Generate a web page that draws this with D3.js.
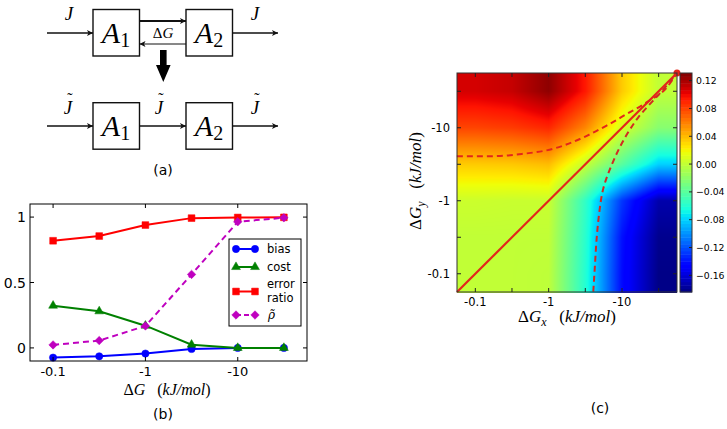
<!DOCTYPE html>
<html><head><meta charset="utf-8">
<script src="https://cdn.jsdelivr.net/npm/d3@7"></script>
<style>body{margin:0;background:#fff} svg{display:block} text{font-family:"DejaVu Sans",sans-serif}</style>
</head><body><svg id="c" width="727" height="429"></svg>
<script>
// ---------- data ----------
const gridDG = [-0.1, -0.316, -1, -3.16, -10, -31.6];
const bias = [-0.074, -0.064, -0.043, -0.008, 0, 0];
const cost = [0.323, 0.280, 0.170, 0.025, 0, 0];
const errorRatio = [0.819, 0.855, 0.939, 0.992, 0.997, 0.998];
const rhoTilde = [0.023, 0.056, 0.168, 0.562, 0.964, 0.995];
const xTickLabels = [-0.1, -1, -10];
const bYTicks = [0, 0.5, 1];
// heat[j][i]: row j = ΔGy (gridDG order), column i = ΔGx (gridDG order)
const heat = [
  [0.000, 0.000, -0.001, -0.060, -0.142, -0.182],
  [0.000, 0.000, 0.000, -0.058, -0.140, -0.180],
  [0.004, 0.003, 0.003, -0.055, -0.128, -0.172],
  [0.035, 0.036, 0.040, 0.002, -0.040, -0.080],
  [0.080, 0.083, 0.090, 0.058, 0.008, -0.022],
  [0.108, 0.112, 0.127, 0.095, 0.035, 0.000]
];
const cbRange = [-0.184, 0.131];
const cbTicks = [0.12, 0.08, 0.04, 0.00, -0.04, -0.08, -0.12, -0.16];
const upperX = [-0.056, -0.151, -0.427, -1.23, -1.74, -3.31, -6.17, -11.7, -21.9, -40.7, -56.2];
const upperY = [-4.07, -4.07, -4.37, -5.25, -5.89, -7.76, -10.7, -15.5, -22.4, -35.5, -56.2];
const lowerX = [-4.06, -4.28, -4.51, -4.85, -5.57, -7.59, -10.0, -12.9, -16.6, -21.9, -29.5, -40.7, -56.2];
const lowerY = [-0.0568, -0.132, -0.302, -0.631, -1.48, -3.47, -6.17, -9.55, -13.8, -19.1, -26.3, -38.0, -56.2];
const endPoint = [-56.2, -56.2];

const svg = d3.select('#c');
const serif = '"Liberation Serif", "DejaVu Serif", serif';

// ---------- panel (a) ----------
const defs = svg.append('defs');
defs.append('marker').attr('id', 'ah').attr('viewBox', '0 0 10 10').attr('refX', 10).attr('refY', 5)
  .attr('markerWidth', 8).attr('markerHeight', 6).attr('markerUnits', 'userSpaceOnUse').attr('orient', 'auto')
  .append('path').attr('d', 'M0,0 L10,5 L0,10 L2.5,5 Z').attr('fill', '#111');
const A = svg.append('g');
function arrow(x1, y1, x2, y2, w) {
  A.append('line').attr('x1', x1).attr('y1', y1).attr('x2', x2).attr('y2', y2)
    .attr('stroke', '#111').attr('stroke-width', w).attr('marker-end', 'url(#ah)');
}
function box(x, y, sub) {
  A.append('rect').attr('x', x).attr('y', y).attr('width', 46.5).attr('height', 46.5)
    .attr('fill', 'none').attr('stroke', '#111').attr('stroke-width', 1.4);
  const t = A.append('text').attr('x', x + 23).attr('y', y + 33.5).attr('text-anchor', 'middle').style('font-family', serif);
  t.append('tspan').text('A').attr('font-size', 30).attr('font-style', 'italic');
  t.append('tspan').text(sub).attr('font-size', 20).attr('dy', 4);
}
function J(x, y, tilde) {
  A.append('text').attr('x', x).attr('y', y).attr('text-anchor', 'middle').style('font-family', serif)
    .attr('font-size', 19).attr('font-style', 'italic').text('J');
  if (tilde) A.append('text').attr('x', x + 2).attr('y', y - 10).attr('text-anchor', 'middle').style('font-family', serif)
    .attr('font-size', 16).text('˜');
}
box(93, 9.5, '1'); box(186, 9.5, '2');
box(93, 102.7, '1'); box(186, 102.7, '2');
arrow(47, 33, 93, 33, 1.4); arrow(232.5, 33, 278, 33, 1.4);
arrow(139.5, 21, 186, 21, 2); arrow(186, 44, 139.5, 44, 1);
A.append('text').attr('x', 163).attr('y', 38).attr('text-anchor', 'middle').style('font-family', serif)
  .attr('font-size', 15).html('<tspan>Δ</tspan><tspan font-style="italic">G</tspan>');
J(69, 20, false); J(255, 20, false);
arrow(47, 126, 93, 126, 1.4); arrow(139.5, 126, 186, 126, 1.4); arrow(232.5, 126, 278, 126, 1.4);
J(68, 114, true); J(159, 114, true); J(255, 114, true);
A.append('path').attr('d', 'M160,50 L166.6,50 L166.6,65 L170.6,65 L163.3,82 L156,65 L160,65 Z').attr('fill', '#000');
svg.append('text').attr('x', 163).attr('y', 175).attr('text-anchor', 'middle').attr('font-size', 14).text('(a)');

// ---------- panel (b) ----------
const bx = d3.scaleLog().domain([-Math.pow(10, -1.25), -Math.pow(10, 1.75)]).range([30, 307]);
const by = d3.scaleLinear().domain([-0.1, 1.1]).range([361, 204]);
const B = svg.append('g');
B.append('rect').attr('x', 30).attr('y', 204).attr('width', 277).attr('height', 157).attr('fill', '#fff');
const series = [
  {name: 'bias', vals: bias, color: '#0000ff', sym: d3.symbolCircle, size: 42, dash: null, rot: 0},
  {name: 'cost', vals: cost, color: '#008000', sym: d3.symbolTriangle, size: 34, dash: null, rot: 0},
  {name: 'error ratio', vals: errorRatio, color: '#ff0000', sym: d3.symbolSquare, size: 46, dash: null, rot: 0},
  {name: 'rho', vals: rhoTilde, color: '#bf00bf', sym: d3.symbolSquare, size: 36, dash: '6,4', rot: 45}
];
const line = d3.line().x((d, i) => bx(gridDG[i])).y(d => by(d));
series.forEach(s => {
  B.append('path').attr('d', line(s.vals)).attr('fill', 'none').attr('stroke', s.color).attr('stroke-width', 2)
    .attr('stroke-dasharray', s.dash);
  B.selectAll(null).data(s.vals).enter().append('path')
    .attr('d', d3.symbol().type(s.sym).size(s.size))
    .attr('transform', (d, i) => `translate(${bx(gridDG[i])},${by(d)}) rotate(${s.rot})`)
    .attr('fill', s.color).attr('stroke', s.color).attr('stroke-width', 0.5);
});
B.append('rect').attr('x', 30).attr('y', 204).attr('width', 277).attr('height', 157).attr('fill', 'none').attr('stroke', '#000').attr('stroke-width', 1);
xTickLabels.forEach(v => {
  const x = bx(v);
  B.append('line').attr('x1', x).attr('x2', x).attr('y1', 361).attr('y2', 357).attr('stroke', '#000');
  B.append('line').attr('x1', x).attr('x2', x).attr('y1', 204).attr('y2', 208).attr('stroke', '#000');
  B.append('text').attr('x', x).attr('y', 376).attr('text-anchor', 'middle').attr('font-size', 13).text(String(v));
});
bYTicks.forEach(v => {
  const y = by(v);
  B.append('line').attr('x1', 30).attr('x2', 34).attr('y1', y).attr('y2', y).attr('stroke', '#000');
  B.append('line').attr('x1', 307).attr('x2', 303).attr('y1', y).attr('y2', y).attr('stroke', '#000');
  B.append('text').attr('x', 26).attr('y', y + 5).attr('text-anchor', 'end').attr('font-size', 14).text(String(v));
});
// legend
const L = B.append('g');
L.append('rect').attr('x', 229).attr('y', 239).attr('width', 72).attr('height', 87).attr('fill', '#fff').attr('stroke', '#000').attr('stroke-width', 1);
const legY = [249, 267, 291.5, 315];
series.forEach((s, k) => {
  const y = legY[k];
  L.append('line').attr('x1', 236).attr('x2', 255).attr('y1', y).attr('y2', y).attr('stroke', s.color).attr('stroke-width', 2).attr('stroke-dasharray', s.dash ? '5,3' : null);
  [236, 255].forEach(x => L.append('path').attr('d', d3.symbol().type(s.sym).size(s.size))
    .attr('transform', `translate(${x},${y}) rotate(${s.rot})`).attr('fill', s.color).attr('stroke', s.color).attr('stroke-width', 0.5));
});
L.append('text').attr('x', 267).attr('y', 253).attr('font-size', 11.5).text('bias');
L.append('text').attr('x', 267).attr('y', 271).attr('font-size', 11.5).text('cost');
L.append('text').attr('x', 267).attr('y', 288).attr('font-size', 11.5).text('error');
L.append('text').attr('x', 267).attr('y', 302).attr('font-size', 11.5).text('ratio');
L.append('text').attr('x', 268).attr('y', 319).attr('font-size', 12).attr('font-style', 'italic').style('font-family', '"DejaVu Serif", serif').text('ρ\u0303');
svg.append('text').attr('x', 167).attr('y', 395).attr('text-anchor', 'middle').style('font-family', serif).attr('font-size', 16)
  .html('<tspan>Δ</tspan><tspan font-style="italic">G</tspan><tspan xml:space="preserve">   (</tspan><tspan font-style="italic">kJ/mol</tspan><tspan>)</tspan>');
svg.append('text').attr('x', 163).attr('y', 419).attr('text-anchor', 'middle').attr('font-size', 14).text('(b)');

// ---------- panel (c) ----------
const cx = d3.scaleLog().domain([-Math.pow(10, -1.25), -Math.pow(10, 1.75)]).range([457, 677]);
const cy = d3.scaleLog().domain([-Math.pow(10, -1.25), -Math.pow(10, 1.75)]).range([292, 73]);
const cb = d3.scaleLinear().domain(cbRange).range([292, 73]);
function seg(t, pts) {
  for (let k = 1; k < pts.length; k++) if (t <= pts[k][0]) {
    const [t0, v0] = pts[k - 1], [t1, v1] = pts[k];
    return v0 + (v1 - v0) * (t - t0) / (t1 - t0);
  }
  return pts[pts.length - 1][1];
}
function jet(t) {
  t = Math.max(0, Math.min(1, t));
  const r = seg(t, [[0, 0], [0.35, 0], [0.66, 1], [0.89, 1], [1, 0.5]]);
  const g = seg(t, [[0, 0], [0.125, 0], [0.375, 1], [0.64, 1], [0.91, 0], [1, 0]]);
  const b = seg(t, [[0, 0.5], [0.11, 1], [0.34, 1], [0.65, 0], [1, 0]]);
  return [r * 255, g * 255, b * 255];
}
const color = v => jet((v - cbRange[0]) / (cbRange[1] - cbRange[0]));
const gridIndex = d3.scaleLinear().domain(d3.extent(gridDG.map(v => Math.log10(-v)))).range([0, gridDG.length - 1]).clamp(true);
const cw = 220, ch = 220;
const cv = document.createElement('canvas'); cv.width = cw; cv.height = ch;
const ctx = cv.getContext('2d'); const img = ctx.createImageData(cw, ch);
const n = gridDG.length - 1;
for (let py = 0; py < ch; py++) {
  const gy = gridIndex(Math.log10(-cy.invert(73 + py + 0.5)));
  const j0 = Math.min(Math.floor(gy), n - 1), fy = gy - j0;
  for (let px = 0; px < cw; px++) {
    const gx = gridIndex(Math.log10(-cx.invert(457 + px + 0.5)));
    const i0 = Math.min(Math.floor(gx), n - 1), fx = gx - i0;
    const v = heat[j0][i0] * (1 - fx) * (1 - fy) + heat[j0][i0 + 1] * fx * (1 - fy) + heat[j0 + 1][i0] * (1 - fx) * fy + heat[j0 + 1][i0 + 1] * fx * fy;
    const c = color(v); const o = (py * cw + px) * 4;
    img.data[o] = c[0]; img.data[o + 1] = c[1]; img.data[o + 2] = c[2]; img.data[o + 3] = 255;
  }
}
ctx.putImageData(img, 0, 0);
const C = svg.append('g');
C.append('image').attr('href', cv.toDataURL()).attr('x', 457).attr('y', 73).attr('width', cw).attr('height', ch).attr('preserveAspectRatio', 'none');
const red = '#e3261b';
C.append('line').attr('x1', cx(cx.domain()[0])).attr('y1', cy(cy.domain()[0])).attr('x2', cx(cx.domain()[1])).attr('y2', cy(cy.domain()[1]))
  .attr('stroke', red).attr('stroke-width', 2.2);
const cl = d3.line().curve(d3.curveMonotoneX);
C.append('path').attr('d', cl(upperX.map((x, i) => [cx(x), cy(upperY[i])]))).attr('fill', 'none').attr('stroke', red).attr('stroke-width', 2).attr('stroke-dasharray', '6,4');
C.append('path').attr('d', d3.line().curve(d3.curveMonotoneY)(lowerX.map((x, i) => [cx(x), cy(lowerY[i])]))).attr('fill', 'none').attr('stroke', '#d12a22').attr('stroke-width', 2).attr('stroke-dasharray', '6,4');
C.append('circle').attr('cx', cx(endPoint[0])).attr('cy', cy(endPoint[1])).attr('r', 3.5).attr('fill', red);
C.append('rect').attr('x', 457).attr('y', 73).attr('width', 220).attr('height', 219).attr('fill', 'none').attr('stroke', '#333').attr('stroke-width', 1);
gridDG.forEach(v => {
  const x = cx(v), y = cy(v);
  C.append('line').attr('x1', x).attr('x2', x).attr('y1', 292).attr('y2', 288).attr('stroke', '#222');
  C.append('line').attr('x1', x).attr('x2', x).attr('y1', 73).attr('y2', 77).attr('stroke', '#222');
  C.append('line').attr('x1', 457).attr('x2', 461).attr('y1', y).attr('y2', y).attr('stroke', '#222');
  C.append('line').attr('x1', 677).attr('x2', 673).attr('y1', y).attr('y2', y).attr('stroke', '#222');
});
xTickLabels.forEach(v => {
  C.append('text').attr('x', cx(v)).attr('y', 306).attr('text-anchor', 'middle').attr('font-size', 11.5).text(String(v));
  C.append('text').attr('x', 450).attr('y', cy(v) + 4).attr('text-anchor', 'end').attr('font-size', 11.5).text(String(v));
});
// colorbar
const nb = 64, step = (cbRange[1] - cbRange[0]) / nb;
C.selectAll(null).data(d3.range(nb)).enter().append('rect')
  .attr('x', 680).attr('width', 12)
  .attr('y', k => cb(cbRange[0] + (k + 1) * step)).attr('height', k => cb(cbRange[0] + k * step) - cb(cbRange[0] + (k + 1) * step) + 0.5)
  .attr('fill', k => { const c = color(cbRange[0] + (k + 0.5) * step); return `rgb(${c[0]},${c[1]},${c[2]})`; });
C.append('rect').attr('x', 680).attr('y', 73).attr('width', 12).attr('height', 219).attr('fill', 'none').attr('stroke', '#333').attr('stroke-width', 1);
const fmt = d3.format('.2f');
cbTicks.forEach(v => {
  C.append('line').attr('x1', 692).attr('x2', 689).attr('y1', cb(v)).attr('y2', cb(v)).attr('stroke', '#222');
  C.append('text').attr('x', 696).attr('y', cb(v) + 3.5).attr('font-size', 9.3).text(fmt(v));
});
svg.append('text').attr('x', 567).attr('y', 322).attr('text-anchor', 'middle').style('font-family', serif).attr('font-size', 17)
  .html('<tspan>Δ</tspan><tspan font-style="italic">G</tspan><tspan font-style="italic" font-size="12" dy="4">x</tspan><tspan xml:space="preserve" dy="-4">   (</tspan><tspan font-style="italic">kJ/mol</tspan><tspan>)</tspan>');
svg.append('text').attr('transform', 'translate(421,181) rotate(-90)').attr('text-anchor', 'middle').style('font-family', serif).attr('font-size', 17)
  .html('<tspan>Δ</tspan><tspan font-style="italic">G</tspan><tspan font-style="italic" font-size="12" dy="4">y</tspan><tspan xml:space="preserve" dy="-4">   (</tspan><tspan font-style="italic">kJ/mol</tspan><tspan>)</tspan>');
svg.append('text').attr('x', 600).attr('y', 413).attr('text-anchor', 'middle').attr('font-size', 14).text('(c)');
</script></body></html>
